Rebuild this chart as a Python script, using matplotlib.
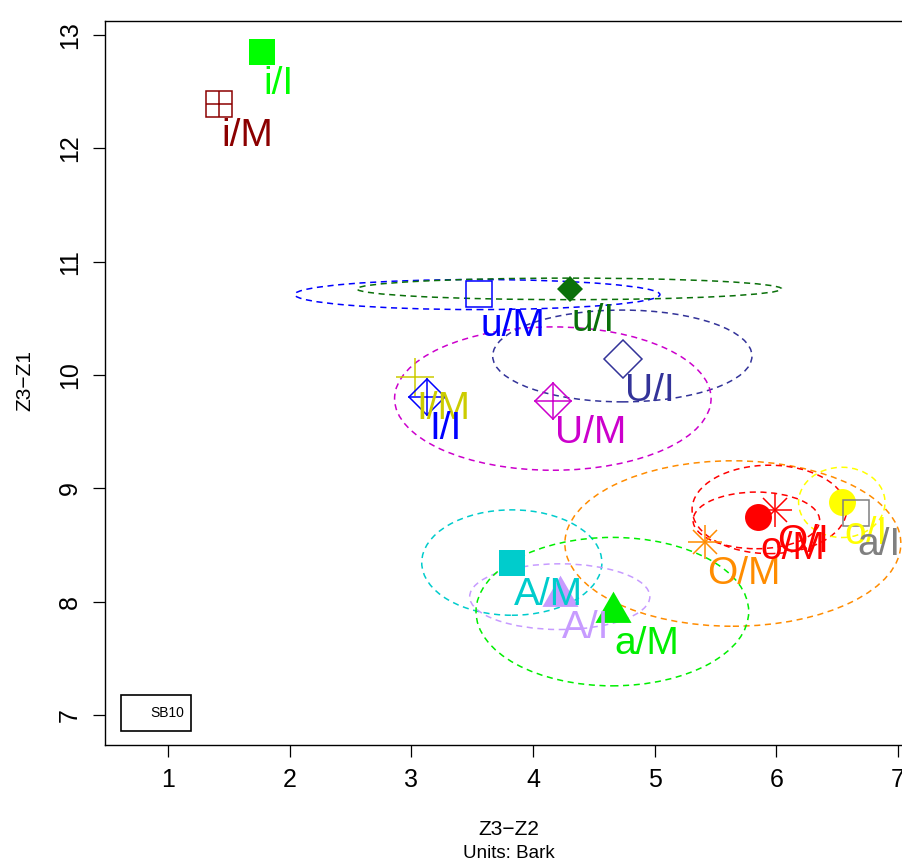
import matplotlib.pyplot as plt
from matplotlib.patches import Ellipse, Rectangle

plt.rcParams['font.family'] = ['Liberation Sans', 'DejaVu Sans']

# Médias de cada vogal (Z3-Z2, Z3-Z1), em Bark
rotulos = ['i/I', 'i/M', 'u/M', 'u/I', 'U/I', 'U/M', 'I/M', 'I/I',
           'O/M', 'O/I', 'o/M', 'o/I', 'a/I', 'A/M', 'A/I', 'a/M']
z3z2 = [1.770, 1.421, 3.553, 4.303, 4.736, 4.165, 3.029, 3.132,
        5.412, 5.987, 5.850, 6.539, 6.651, 3.829, 4.221, 4.654]
z3z1 = [12.850, 12.394, 10.711, 10.757, 10.144, 9.767, 9.980, 9.808,
        8.525, 8.805, 8.746, 8.883, 8.781, 8.342, 8.047, 7.905]
cores = ['#00FF00', '#8B0000', '#0000FF', '#0A700A', '#333399', '#CC00CC',
         '#CCCC00', '#0000FF', '#FF8C00', '#FF0000', '#FF0000', '#FFFF00',
         '#808080', '#00CCCC', '#C79BFF', '#00EE00']
simbolos = [15, 12, 0, 18, 5, 9, 3, 9, 8, 8, 16, 16, 0, 15, 17, 17]

# Elipses de dispersão
elip_rotulos = ['u/M', 'u/I', 'U/I', 'U/M', 'O/M', 'O/I', 'o/M', 'o/I',
                'A/M', 'A/I', 'a/M']
elip_x = [3.543, 4.298, 4.734, 4.163, 5.642, 5.942, 5.835, 6.537,
          3.826, 4.220, 4.652]
elip_y = [10.710, 10.760, 10.168, 9.792, 8.513, 8.814, 8.717, 8.876,
          8.345, 8.044, 7.912]
elip_larg = [3.00, 3.49, 2.13, 2.60, 2.76, 1.27, 1.04, 0.71, 1.48, 1.48, 2.24]
elip_alt = [0.265, 0.19, 0.81, 1.265, 1.46, 0.78, 0.50, 0.62, 0.93, 0.58, 1.31]

cor_de = dict(zip(rotulos, cores))

fig = plt.figure(figsize=(9.02, 8.63), dpi=100)
ax = fig.add_axes([105 / 902, 118 / 863, 799 / 902, 724 / 863])
ax.set_xlim(0.484, 7.048)
ax.set_ylim(6.735, 13.124)

for r, ex, ey, w, h in zip(elip_rotulos, elip_x, elip_y, elip_larg, elip_alt):
    ax.add_patch(Ellipse((ex, ey), w, h, fill=False, edgecolor=cor_de[r],
                         lw=1.1, linestyle=(0, (4, 3)), zorder=2))

triangulo = [(-1, -0.577), (1, -0.577), (0, 1.155)]


def desenha_pch(x, y, pch, cor):
    kw = dict(linestyle='none', zorder=3)
    if pch == 15:
        ax.plot(x, y, 's', ms=19.4, mfc=cor, mec=cor, mew=0, **kw)
    elif pch == 0:
        ax.plot(x, y, 's', ms=18.5, mfc='none', mec=cor, mew=1.1, **kw)
    elif pch == 12:
        ax.plot(x, y, 's', ms=18.5, mfc='none', mec=cor, mew=1.1, **kw)
        ax.plot(x, y, '+', ms=18.5, mec=cor, mew=1.1, **kw)
    elif pch == 18:
        ax.plot(x, y, 'D', ms=13.7, mfc=cor, mec=cor, mew=0, **kw)
    elif pch == 5:
        ax.plot(x, y, 'D', ms=19.3, mfc='none', mec=cor, mew=1.1, **kw)
    elif pch == 9:
        ax.plot(x, y, 'D', ms=18.8, mfc='none', mec=cor, mew=1.1, **kw)
        ax.plot(x, y, '+', ms=27.0, mec=cor, mew=1.1, **kw)
    elif pch == 3:
        ax.plot(x, y, '+', ms=28.0, mec=cor, mew=1.1, **kw)
    elif pch == 8:
        ax.plot(x, y, '+', ms=25.0, mec=cor, mew=1.1, **kw)
        ax.plot(x, y, 'x', ms=17.7, mec=cor, mew=1.1, **kw)
    elif pch == 16:
        ax.plot(x, y, 'o', ms=19.4, mfc=cor, mec=cor, mew=0, **kw)
    elif pch == 17:
        ax.plot(x, y, marker=triangulo, ms=30, mfc=cor, mec=cor, mew=0, **kw)


for r, x, y, c, p in zip(rotulos, z3z2, z3z1, cores, simbolos):
    desenha_pch(x, y, p, c)
    ax.annotate(r, (x, y), xytext=(1.5, -23), textcoords='offset points',
                ha='left', va='center', fontsize=28, color=c, zorder=4)

# Eixos no estilo do R
ax.set_xticks(range(1, 8))
ax.set_yticks(range(7, 14))
ax.tick_params(direction='out', length=8.6, width=0.9, labelsize=18, pad=8)
for lbl in ax.get_yticklabels():
    lbl.set_rotation(90)
    lbl.set_va('center')
for s in ax.spines.values():
    s.set_linewidth(1.0)

# Caixa de legenda
ax.add_patch(Rectangle((0.02, 0.0193), 0.0876, 0.0497, transform=ax.transAxes,
                       facecolor='white', edgecolor='black', lw=1.2, zorder=5))
ax.text(0.0776, 0.0442, 'SB10', transform=ax.transAxes, ha='center',
        va='center', fontsize=10, zorder=6)

fig.text(509 / 902, 1 - 829 / 863, 'Z3\u2212Z2', ha='center', va='center',
         fontsize=15)
fig.text(509 / 902, 1 - 853 / 863, 'Units: Bark', ha='center', va='center',
         fontsize=13.5)
fig.text(25 / 902, 1 - 380 / 863, 'Z3\u2212Z1', ha='center', va='center',
         fontsize=15, rotation=90)

fig.savefig('out.png', dpi=100)
